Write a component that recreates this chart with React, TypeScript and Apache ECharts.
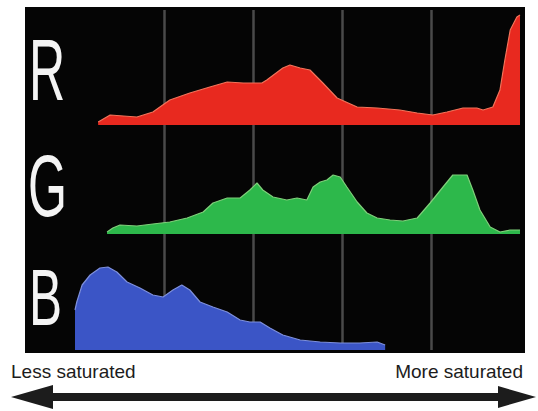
import React, { useEffect, useRef } from "react";
import * as echarts from "echarts";

// saturation axis (0 = less saturated, 100 = more saturated)
const xTicks = [0, 20, 40, 60, 80, 100];

const redX = [5.2, 7.9, 13.9, 17.5, 21.3, 25.8, 30.3, 34.2, 37.8, 42.0, 43.1, 46.7, 48.3, 50.6, 52.8, 55.7, 58.9, 63.4, 67.9, 73.0, 76.9, 80.4, 83.6, 87.2, 90.3, 91.7, 93.9, 95.5, 96.6, 97.8, 99.3, 100];
const redY = [3, 10, 8, 13, 25, 32, 38, 43, 42, 42, 45, 57, 60, 57, 55, 42, 27, 18, 17, 15, 12, 10, 13, 17, 17, 15, 18, 35, 65, 95, 108, 110];

const greenX = [7.2, 8.5, 10.1, 13.9, 17.5, 21.3, 25.2, 28.8, 31.0, 34.2, 37.1, 39.3, 40.9, 42.2, 44.5, 47.6, 49.9, 52.1, 53.5, 55.1, 56.6, 58.0, 59.6, 61.1, 63.4, 65.6, 67.9, 70.8, 73.7, 76.9, 79.8, 82.7, 84.9, 88.1, 89.4, 91.0, 93.3, 95.5, 97.8, 100];
const greenY = [2, 6, 9, 8, 10, 12, 16, 22, 31, 36, 36, 44, 51, 44, 37, 34, 36, 34, 47, 52, 54, 59, 57, 47, 32, 21, 16, 14, 13, 16, 31, 47, 59, 59, 44, 24, 7, 2, 4, 4];

const blueX = [0.0, 0.4, 1.6, 3.4, 5.6, 7.4, 9.4, 11.7, 14.6, 17.5, 19.8, 22.0, 24.0, 25.8, 28.1, 31.0, 34.2, 37.1, 39.3, 41.6, 43.8, 46.7, 50.6, 55.1, 59.6, 64.0, 67.9, 69.7];
const blueY = [40, 48, 65, 75, 82, 83, 78, 68, 62, 55, 53, 60, 65, 60, 48, 43, 38, 30, 28, 28, 22, 15, 10, 8, 7, 7, 8, 5];

const rowLabels = ["R", "G", "B"];
const leftCaption = "Less saturated";
const rightCaption = "More saturated";

const pairs = (xs: number[], ys: number[]) => xs.map((x, i) => [x, ys[i]]);

export default function App() {
  const ref = useRef<HTMLDivElement>(null);
  useEffect(() => {
    if (!ref.current) return;
    const chart = echarts.init(ref.current, null, { renderer: "svg" });
    const grids = [
      { left: 75, top: 10, width: 445, height: 115 },
      { left: 75, top: 125, width: 445, height: 109 },
      { left: 75, top: 234, width: 445, height: 116 },
    ];
    const gridColor = ["rgba(0,0,0,0)", "#4a4a4a", "#4a4a4a", "#4a4a4a", "#4a4a4a", "rgba(0,0,0,0)"];
    const xAxes = grids.map((_, i) => ({
      type: "value",
      gridIndex: i,
      min: xTicks[0],
      max: xTicks[xTicks.length - 1],
      interval: xTicks[1] - xTicks[0],
      axisLine: { show: false },
      axisTick: { show: false },
      axisLabel: { show: false },
      splitLine: { show: true, lineStyle: { color: gridColor, width: 2.5 } },
    }));
    const yAxes = grids.map((g, i) => ({
      type: "value",
      gridIndex: i,
      min: 0,
      max: g.height,
      show: false,
      splitLine: { show: false },
    }));
    const mk = (i: number, data: number[][], fill: string, edge: string) => ({
      type: "line",
      xAxisIndex: i,
      yAxisIndex: i,
      data,
      symbol: "none",
      smooth: false,
      lineStyle: { color: edge, width: 1.2 },
      areaStyle: { color: fill, opacity: 1 },
      z: 3,
    });
    const labelFont = "'Liberation Sans', Arial, sans-serif";
    const letter = (t: string, x: number, y: number, size: number, sx: number) => ({
      type: "text",
      x,
      y,
      scaleX: sx,
      z: 100,
      style: {
        text: t,
        x: 0,
        y: 0,
        fontSize: size,
        fontFamily: labelFont,
        fill: "#f4f4f4",
        textVerticalAlign: "middle",
        textAlign: "left",
      },
    });
    chart.setOption({
      animation: false,
      grid: grids,
      xAxis: xAxes,
      yAxis: yAxes,
      series: [
        mk(0, pairs(redX, redY), "#e8291f", "#f2735a"),
        mk(1, pairs(greenX, greenY), "#2db84b", "#7fcf7a"),
        mk(2, pairs(blueX, blueY), "#3b55c6", "#7d8fdc"),
      ],
      graphic: [
        {
          type: "rect",
          z: -100,
          shape: { x: 25, y: 7, width: 500, height: 346 },
          style: { fill: "#050505" },
        },
        letter(rowLabels[0], 29, 69, 88, 0.57),
        letter(rowLabels[1], 28, 185, 88, 0.57),
        letter(rowLabels[2], 29, 297, 80, 0.62),
        {
          type: "text",
          z: 100,
          style: {
            text: leftCaption,
            x: 11,
            y: 371,
            fontSize: 19,
            fontFamily: labelFont,
            fill: "#1c1c1c",
            textVerticalAlign: "middle",
            textAlign: "left",
          },
        },
        {
          type: "text",
          z: 100,
          style: {
            text: rightCaption,
            x: 523,
            y: 371,
            fontSize: 19,
            fontFamily: labelFont,
            fill: "#1c1c1c",
            textVerticalAlign: "middle",
            textAlign: "right",
          },
        },
        {
          type: "polygon",
          z: 100,
          shape: {
            points: [
              [11, 397], [53, 385], [53, 393], [498, 393], [498, 386], [536, 397],
              [498, 408], [498, 401], [53, 401], [53, 409],
            ],
          },
          style: { fill: "#1c1c1c" },
        },
      ],
    });
    return () => chart.dispose();
  }, []);
  return (
    <div
      ref={ref}
      style={{ position: "fixed", left: 0, top: 0, width: 538, height: 411, background: "#fff" }}
    />
  );
}
